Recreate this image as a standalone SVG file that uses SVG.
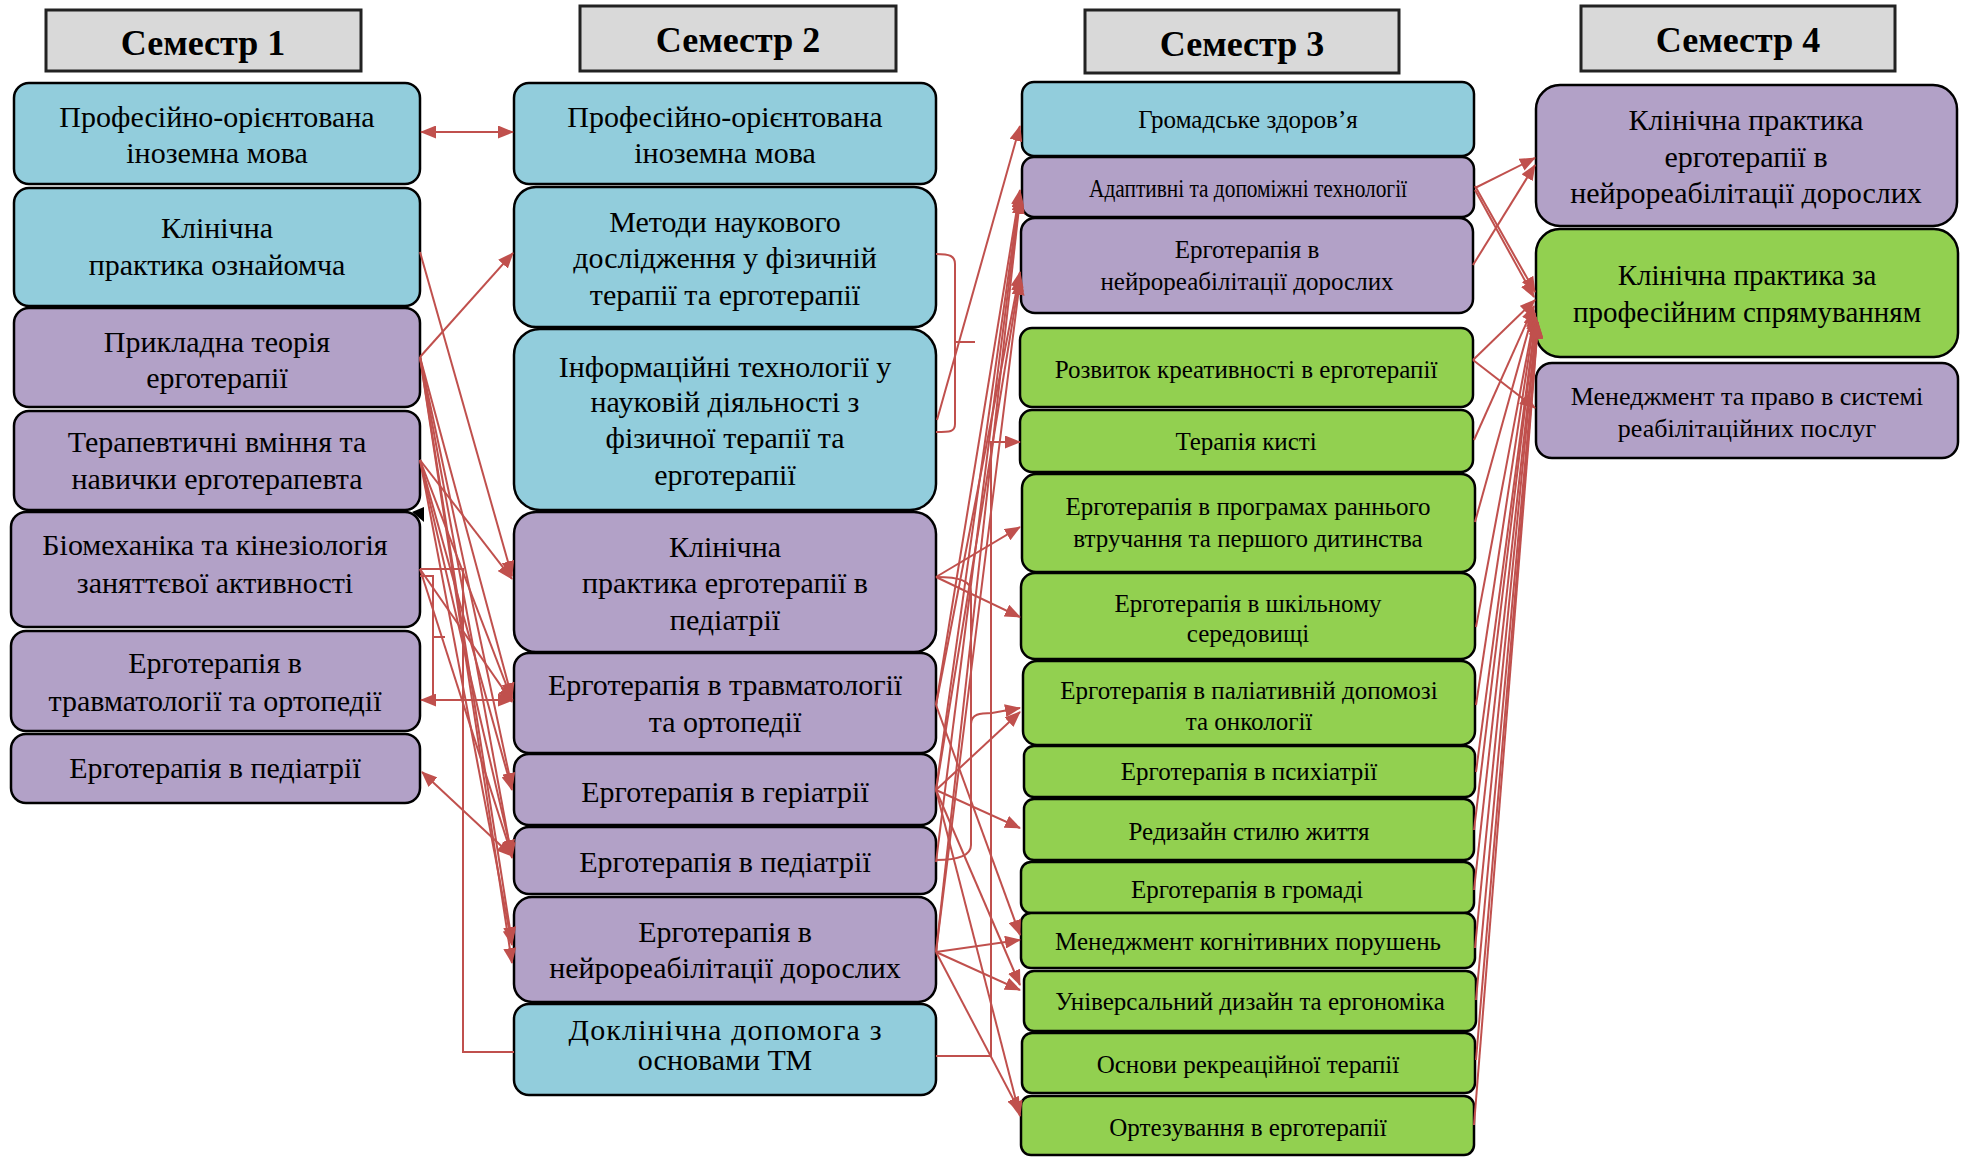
<svg xmlns="http://www.w3.org/2000/svg" width="1964" height="1157" viewBox="0 0 1964 1157">
<style>
.b{fill:#92CDDC;stroke:#000;stroke-width:2.5}
.p{fill:#B2A1C7;stroke:#000;stroke-width:2.5}
.g{fill:#92D050;stroke:#000;stroke-width:2.5}
.h{fill:#D9D9D9;stroke:#222;stroke-width:3}
text{font-family:"Liberation Serif","Times New Roman",serif;text-anchor:middle;fill:#000}
.ht{font-size:36px;font-weight:bold}
.f30{font-size:30px}
.f29{font-size:29px}
.f26{font-size:26px}
.f25{font-size:25px}
.c{stroke:#C0504D;stroke-width:2;fill:none}
</style>
<defs>
<marker id="ah" markerUnits="userSpaceOnUse" markerWidth="16" markerHeight="13" refX="15" refY="6.5" orient="auto-start-reverse" viewBox="0 0 16 13"><path d="M0,0 L16,6.5 L0,13 z" fill="#C0504D"/></marker>
</defs>
<rect width="1964" height="1157" fill="#fff"/>

<!-- Headers -->
<g id="h1"><rect class="h" x="46" y="10" width="315" height="61"/><text class="ht" x="203" y="55">Семестр 1</text></g>
<g id="h2"><rect class="h" x="580" y="6" width="316" height="65"/><text class="ht" x="738" y="52">Семестр 2</text></g>
<g id="h3"><rect class="h" x="1085" y="10" width="314" height="63"/><text class="ht" x="1242" y="56">Семестр 3</text></g>
<g id="h4"><rect class="h" x="1581" y="6" width="314" height="65"/><text class="ht" x="1738" y="52">Семестр 4</text></g>

<!-- Semester 1 -->
<g id="s1n1"><rect class="b" x="14" y="83" width="406" height="101" rx="15"/><text class="f30" x="217" y="127">Професійно-орієнтована</text><text class="f30" x="217" y="163">іноземна мова</text></g>
<g id="s1n2"><rect class="b" x="14" y="188" width="406" height="118" rx="15"/><text class="f30" x="217" y="238">Клінічна</text><text class="f30" x="217" y="275">практика ознайомча</text></g>
<g id="s1n3"><rect class="p" x="14" y="308" width="406" height="99" rx="15"/><text class="f30" x="217" y="352">Прикладна теорія</text><text class="f30" x="217" y="388">ерготерапії</text></g>
<g id="s1n4"><rect class="p" x="14" y="411" width="406" height="99" rx="15"/><text class="f30" x="217" y="452">Терапевтичні вміння та</text><text class="f30" x="217" y="489">навички ерготерапевта</text></g>
<g id="s1n5"><rect class="p" x="11" y="512" width="409" height="115" rx="15"/><text class="f30" x="215" y="555">Біомеханіка та кінезіологія</text><text class="f30" x="215" y="593">заняттєвої активності</text></g>
<g id="s1n6"><rect class="p" x="11" y="631" width="409" height="100" rx="15"/><text class="f30" x="215" y="673">Ерготерапія в</text><text class="f30" x="215" y="711">травматології та ортопедії</text></g>
<g id="s1n7"><rect class="p" x="11" y="734" width="409" height="69" rx="15"/><text class="f30" x="215" y="778">Ерготерапія в педіатрії</text></g>

<!-- Semester 2 -->
<g id="s2n1"><rect class="b" x="514" y="83" width="422" height="101" rx="15"/><text class="f30" x="725" y="127">Професійно-орієнтована</text><text class="f30" x="725" y="163">іноземна мова</text></g>
<g id="s2n2"><rect class="b" x="514" y="187" width="422" height="140" rx="22"/><text class="f30" x="725" y="232">Методи наукового</text><text class="f30" x="725" y="268">дослідження у фізичній</text><text class="f30" x="725" y="305">терапії та ерготерапії</text></g>
<g id="s2n3"><rect class="b" x="514" y="329" width="422" height="181" rx="26"/><text class="f30" x="725" y="377">Інформаційні технології у</text><text class="f30" x="725" y="412">науковій діяльності з</text><text class="f30" x="725" y="448">фізичної терапії та</text><text class="f30" x="725" y="485">ерготерапії</text></g>
<g id="s2n4"><rect class="p" x="514" y="512" width="422" height="140" rx="22"/><text class="f30" x="725" y="557">Клінічна</text><text class="f30" x="725" y="593">практика ерготерапії в</text><text class="f30" x="725" y="630">педіатрії</text></g>
<g id="s2n5"><rect class="p" x="514" y="653" width="422" height="100" rx="15"/><text class="f30" x="725" y="695">Ерготерапія в травматології</text><text class="f30" x="725" y="732">та ортопедії</text></g>
<g id="s2n6"><rect class="p" x="514" y="754" width="422" height="71" rx="15"/><text class="f30" x="725" y="802">Ерготерапія в геріатрії</text></g>
<g id="s2n7"><rect class="p" x="514" y="827" width="422" height="67" rx="15"/><text class="f30" x="725" y="872">Ерготерапія в педіатрії</text></g>
<g id="s2n8"><rect class="p" x="514" y="897" width="422" height="105" rx="18"/><text class="f30" x="725" y="942">Ерготерапія в</text><text class="f30" x="725" y="978">нейрореабілітації дорослих</text></g>
<g id="s2n9"><rect class="b" x="514" y="1004" width="422" height="91" rx="15"/><text class="f30" x="725" y="1040" textLength="313">Доклінічна  допомога  з</text><text class="f30" x="725" y="1070">основами ТМ</text></g>

<!-- Semester 3 -->
<g id="s3n1"><rect class="b" x="1022" y="82" width="452" height="74" rx="12"/><text class="f25" x="1248" y="128">Громадське здоров’я</text></g>
<g id="s3n2"><rect class="p" x="1022" y="157" width="452" height="60" rx="12"/><text class="f25" x="1248" y="197" textLength="318" lengthAdjust="spacingAndGlyphs">Адаптивні та допоміжні технології</text></g>
<g id="s3n3"><rect class="p" x="1021" y="218" width="452" height="95" rx="14"/><text class="f25" x="1247" y="258">Ерготерапія в</text><text class="f25" x="1247" y="290">нейрореабілітації дорослих</text></g>
<g id="s3n4"><rect class="g" x="1020" y="328" width="453" height="79" rx="12"/><text class="f25" x="1246" y="378">Розвиток креативності в ерготерапії</text></g>
<g id="s3n5"><rect class="g" x="1020" y="410" width="453" height="62" rx="12"/><text class="f25" x="1246" y="450">Терапія кисті</text></g>
<g id="s3n6"><rect class="g" x="1022" y="474" width="453" height="98" rx="14"/><text class="f25" x="1248" y="515">Ерготерапія в програмах раннього</text><text class="f25" x="1248" y="547">втручання та першого дитинства</text></g>
<g id="s3n7"><rect class="g" x="1021" y="573" width="454" height="86" rx="14"/><text class="f25" x="1248" y="612">Ерготерапія в шкільному</text><text class="f25" x="1248" y="642">середовищі</text></g>
<g id="s3n8"><rect class="g" x="1023" y="661" width="452" height="84" rx="14"/><text class="f25" x="1249" y="699">Ерготерапія в паліативній допомозі</text><text class="f25" x="1249" y="730">та онкології</text></g>
<g id="s3n9"><rect class="g" x="1024" y="746" width="451" height="51" rx="10"/><text class="f25" x="1249" y="780">Ерготерапія в психіатрії</text></g>
<g id="s3n10"><rect class="g" x="1024" y="799" width="450" height="61" rx="10"/><text class="f25" x="1249" y="840">Редизайн стилю життя</text></g>
<g id="s3n11"><rect class="g" x="1021" y="862" width="453" height="51" rx="10"/><text class="f25" x="1247" y="898">Ерготерапія в громаді</text></g>
<g id="s3n12"><rect class="g" x="1021" y="913" width="454" height="55" rx="10"/><text class="f25" x="1248" y="950">Менеджмент когнітивних порушень</text></g>
<g id="s3n13"><rect class="g" x="1024" y="971" width="452" height="60" rx="10"/><text class="f25" x="1250" y="1010">Універсальний дизайн та ергономіка</text></g>
<g id="s3n14"><rect class="g" x="1022" y="1033" width="453" height="60" rx="10"/><text class="f25" x="1248" y="1073">Основи рекреаційної терапії</text></g>
<g id="s3n15"><rect class="g" x="1021" y="1096" width="453" height="59" rx="10"/><text class="f25" x="1248" y="1136">Ортезування в ерготерапії</text></g>

<!-- Semester 4 -->
<g id="s4n1"><rect class="p" x="1536" y="85" width="421" height="141" rx="24"/><text class="f30" x="1746" y="130">Клінічна практика</text><text class="f30" x="1746" y="167">ерготерапії в</text><text class="f30" x="1746" y="203">нейрореабілітації дорослих</text></g>
<g id="s4n2"><rect class="g" x="1536" y="229" width="422" height="128" rx="24"/><text class="f29" x="1747" y="285">Клінічна практика за</text><text class="f29" x="1747" y="322">професійним спрямуванням</text></g>
<g id="s4n3"><rect class="p" x="1536" y="363" width="422" height="95" rx="16"/><text class="f26" x="1747" y="405">Менеджмент та право в системі</text><text class="f26" x="1747" y="437">реабілітаційних послуг</text></g>

<!-- Connectors -->
<g id="connectors">
<!-- S1 -> S2 -->
<line class="c" x1="421" y1="132" x2="513" y2="132" marker-start="url(#ah)" marker-end="url(#ah)"/>
<line class="c" x1="420" y1="357" x2="513" y2="253" marker-end="url(#ah)"/>
<line class="c" x1="420" y1="252" x2="512" y2="576" marker-end="url(#ah)"/>
<line class="c" x1="420" y1="357" x2="512" y2="698" marker-end="url(#ah)"/>
<line class="c" x1="420" y1="357" x2="512" y2="788" marker-end="url(#ah)"/>
<line class="c" x1="420" y1="357" x2="512" y2="858" marker-end="url(#ah)"/>
<line class="c" x1="420" y1="357" x2="512" y2="942" marker-end="url(#ah)"/>
<line class="c" x1="420" y1="357" x2="512" y2="963" marker-end="url(#ah)"/>
<line class="c" x1="420" y1="460" x2="512" y2="579" marker-end="url(#ah)"/>
<line class="c" x1="420" y1="460" x2="512" y2="700" marker-end="url(#ah)"/>
<line class="c" x1="420" y1="460" x2="512" y2="790" marker-end="url(#ah)"/>
<line class="c" x1="420" y1="460" x2="512" y2="855" marker-end="url(#ah)"/>
<line class="c" x1="420" y1="460" x2="512" y2="945" marker-end="url(#ah)"/>
<line class="c" x1="420" y1="569" x2="512" y2="702" marker-end="url(#ah)"/>
<line class="c" x1="420" y1="569" x2="512" y2="856" marker-end="url(#ah)"/>
<line class="c" x1="421" y1="700" x2="513" y2="700" marker-start="url(#ah)" marker-end="url(#ah)"/>
<line class="c" x1="422" y1="772" x2="512" y2="856" marker-start="url(#ah)" marker-end="url(#ah)"/>
<path class="c" d="M514,1052 H463 V569 H420"/>
<path class="c" d="M420,576 H433 V696 M433,637 H445"/>
<polygon points="412,512 424,507 424,522" fill="#000"/>

<!-- S2 -> S3 -->
<path class="c" d="M936,254 C950,254 955,256 955,264 V424 C955,432 950,432 936,432 M955,342 H975"/>
<line class="c" x1="937" y1="420" x2="1020" y2="126" marker-end="url(#ah)"/>
<line class="c" x1="936" y1="705" x2="1020" y2="190" marker-end="url(#ah)"/>
<line class="c" x1="936" y1="790" x2="1020" y2="193" marker-end="url(#ah)"/>
<line class="c" x1="936" y1="862" x2="1020" y2="196" marker-end="url(#ah)"/>
<line class="c" x1="936" y1="952" x2="1020" y2="199" marker-end="url(#ah)"/>
<line class="c" x1="936" y1="705" x2="1020" y2="272" marker-end="url(#ah)"/>
<line class="c" x1="936" y1="790" x2="1020" y2="276" marker-end="url(#ah)"/>
<line class="c" x1="936" y1="952" x2="1020" y2="280" marker-end="url(#ah)"/>
<line class="c" x1="936" y1="577" x2="1020" y2="527" marker-end="url(#ah)"/>
<line class="c" x1="936" y1="577" x2="1020" y2="617" marker-end="url(#ah)"/>
<line class="c" x1="936" y1="790" x2="1020" y2="712" marker-end="url(#ah)"/>
<line class="c" x1="936" y1="790" x2="1020" y2="828" marker-end="url(#ah)"/>
<line class="c" x1="936" y1="705" x2="1020" y2="935" marker-end="url(#ah)"/>
<line class="c" x1="936" y1="952" x2="1020" y2="940" marker-end="url(#ah)"/>
<line class="c" x1="936" y1="790" x2="1020" y2="985" marker-end="url(#ah)"/>
<line class="c" x1="936" y1="952" x2="1020" y2="990" marker-end="url(#ah)"/>
<line class="c" x1="936" y1="952" x2="1020" y2="1112" marker-end="url(#ah)"/>
<line class="c" x1="936" y1="790" x2="1020" y2="1116" marker-end="url(#ah)"/>
<path class="c" d="M936,1056 H991 V442 H1020" marker-end="url(#ah)"/>
<path class="c" d="M936,860 C960,860 971,855 971,845 V724 C971,714 980,713 992,713 L1020,708" marker-end="url(#ah)"/>
<path class="c" d="M936,577 C960,577 971,581 971,592 V724"/>

<!-- S3 -> S4 -->
<line class="c" x1="1475" y1="188" x2="1535" y2="158" marker-end="url(#ah)"/>
<line class="c" x1="1475" y1="186" x2="1535" y2="292" marker-end="url(#ah)"/>
<line class="c" x1="1475" y1="190" x2="1534" y2="297" marker-end="url(#ah)"/>
<line class="c" x1="1473" y1="265" x2="1535" y2="165" marker-end="url(#ah)"/>
<line class="c" x1="1473" y1="360" x2="1535" y2="300" marker-end="url(#ah)"/>
<line class="c" x1="1473" y1="360" x2="1535" y2="408" marker-end="url(#ah)"/>
<line class="c" x1="1474" y1="440" x2="1534" y2="306" marker-end="url(#ah)"/>
<line class="c" x1="1475" y1="522" x2="1534" y2="310" marker-end="url(#ah)"/>
<line class="c" x1="1476" y1="627" x2="1535" y2="313" marker-end="url(#ah)"/>
<line class="c" x1="1476" y1="705" x2="1535" y2="315" marker-end="url(#ah)"/>
<line class="c" x1="1476" y1="772" x2="1536" y2="317" marker-end="url(#ah)"/>
<line class="c" x1="1474" y1="830" x2="1536" y2="318" marker-end="url(#ah)"/>
<line class="c" x1="1474" y1="890" x2="1537" y2="320" marker-end="url(#ah)"/>
<line class="c" x1="1475" y1="948" x2="1537" y2="321" marker-end="url(#ah)"/>
<line class="c" x1="1476" y1="1000" x2="1538" y2="322" marker-end="url(#ah)"/>
<line class="c" x1="1476" y1="1060" x2="1538" y2="323" marker-end="url(#ah)"/>
<line class="c" x1="1474" y1="1125" x2="1538" y2="324" marker-end="url(#ah)"/>
</g>
</svg>
